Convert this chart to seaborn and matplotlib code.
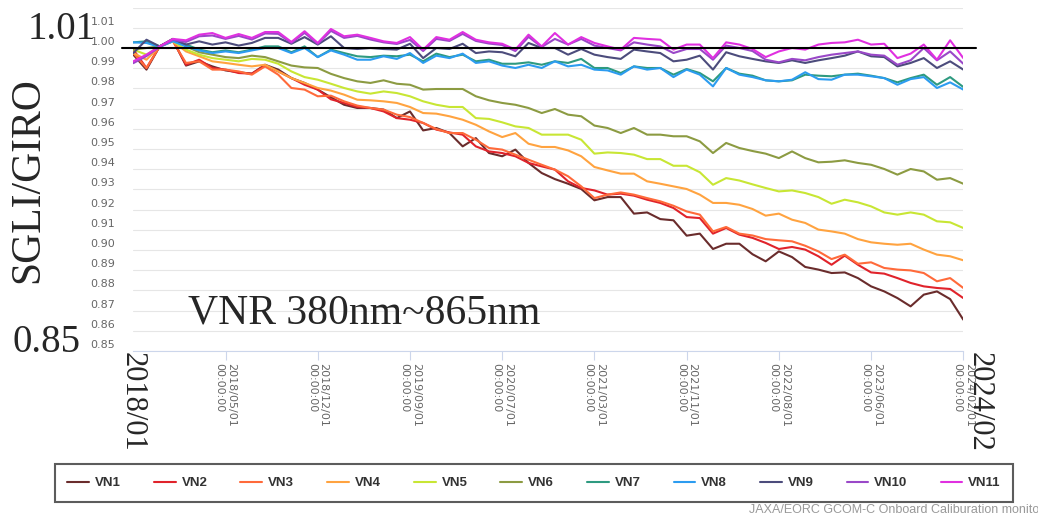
import numpy as np
import pandas as pd
import matplotlib
matplotlib.use("Agg")
import matplotlib.pyplot as plt
import seaborn as sns
from matplotlib.transforms import ScaledTranslation

# ---------------- data ----------------
bands = ["VN1", "VN2", "VN3", "VN4", "VN5", "VN6", "VN7", "VN8", "VN9", "VN10", "VN11"]
band_colors = ["#6a2c2c", "#e0232b", "#ff6a3a", "#ffa340", "#c8e634", "#8c9b42",
               "#2e9a80", "#2c9cf0", "#4c4c7c", "#9a48c8", "#e030e0"]
tick_dates = ["2018/05/01", "2018/12/01", "2019/09/01", "2020/07/01", "2021/03/01",
              "2021/11/01", "2022/08/01", "2023/06/01", "2024/02/01"]
y_ticks = [0.85, 0.86, 0.87, 0.88, 0.89, 0.90, 0.91, 0.92, 0.93, 0.94, 0.95,
           0.96, 0.97, 0.98, 0.99, 1.00, 1.01, 1.02]

VN1 = [0.9967, 0.9893, 1.0008, 1.0041, 0.9913, 0.9934, 0.9909, 0.9889, 0.9880, 0.9873, 0.9917, 0.9893, 0.9851, 0.9827, 0.9794, 0.9756,
       0.9719, 0.9703, 0.9703, 0.9695, 0.9653, 0.9686, 0.9592, 0.9604, 0.9579, 0.9513, 0.9554, 0.9480, 0.9464, 0.9497, 0.9431,
       0.9381, 0.9351, 0.9328, 0.9302, 0.9246, 0.9262, 0.9262, 0.9180, 0.9186, 0.9153, 0.9147, 0.9071, 0.9081, 0.9005, 0.9031, 0.9031, 0.8979,
       0.8944, 0.8993, 0.8965, 0.8916, 0.8903, 0.8886, 0.8889, 0.8861, 0.8820, 0.8795, 0.8762, 0.8721, 0.8779, 0.8795, 0.8757, 0.8655]
VN2 = [0.9992, 0.9901, 1.0008, 1.0038, 0.9917, 0.9942, 0.9901, 0.9893, 0.9876, 0.9873, 0.9913, 0.9884, 0.9851, 0.9818, 0.9794, 0.9746,
       0.9728, 0.9708, 0.9703, 0.9686, 0.9653, 0.9645, 0.9629, 0.9596, 0.9582, 0.9571, 0.9513, 0.9488, 0.9480, 0.9464, 0.9431,
       0.9414, 0.9398, 0.9340, 0.9307, 0.9295, 0.9274, 0.9279, 0.9269, 0.9249, 0.9233, 0.9208, 0.9163, 0.9158, 0.9081, 0.9109, 0.9076, 0.9060,
       0.9035, 0.9005, 0.9015, 0.9002, 0.8969, 0.8927, 0.8972, 0.8927, 0.8889, 0.8883, 0.8861, 0.8837, 0.8820, 0.8812, 0.8807, 0.8762]
VN3 = [0.9975, 0.9901, 1.0008, 1.0033, 0.9926, 0.9934, 0.9893, 0.9893, 0.9884, 0.9868, 0.9909, 0.9868, 0.9802, 0.9794, 0.9761, 0.9764,
       0.9736, 0.9715, 0.9703, 0.9695, 0.9670, 0.9658, 0.9629, 0.9599, 0.9579, 0.9579, 0.9546, 0.9505, 0.9497, 0.9472, 0.9447,
       0.9422, 0.9398, 0.9365, 0.9315, 0.9257, 0.9274, 0.9285, 0.9274, 0.9257, 0.9241, 0.9219, 0.9191, 0.9175, 0.9092, 0.9114, 0.9081, 0.9072,
       0.9054, 0.9048, 0.9043, 0.9021, 0.8993, 0.8955, 0.8977, 0.8932, 0.8939, 0.8911, 0.8903, 0.8899, 0.8886, 0.8845, 0.8861, 0.8812]
VN4 = [0.9975, 0.9942, 1.0008, 1.0033, 0.9983, 0.9959, 0.9934, 0.9926, 0.9917, 0.9909, 0.9917, 0.9884, 0.9851, 0.9827, 0.9802, 0.9789,
       0.9769, 0.9744, 0.9741, 0.9736, 0.9728, 0.9708, 0.9678, 0.9675, 0.9662, 0.9645, 0.9620, 0.9587, 0.9559, 0.9579, 0.9526,
       0.9510, 0.9510, 0.9493, 0.9464, 0.9411, 0.9394, 0.9378, 0.9378, 0.9340, 0.9328, 0.9315, 0.9302, 0.9274, 0.9233, 0.9233, 0.9224, 0.9203,
       0.9170, 0.9180, 0.9150, 0.9134, 0.9101, 0.9092, 0.9081, 0.9054, 0.9038, 0.9031, 0.9026, 0.9031, 0.9002, 0.8977, 0.8969, 0.8949]
VN5 = [0.9992, 0.9967, 1.0008, 1.0033, 0.9992, 0.9967, 0.9950, 0.9942, 0.9934, 0.9946, 0.9942, 0.9922, 0.9884, 0.9856, 0.9843, 0.9823,
       0.9802, 0.9785, 0.9774, 0.9785, 0.9777, 0.9761, 0.9736, 0.9719, 0.9708, 0.9708, 0.9653, 0.9649, 0.9632, 0.9612, 0.9604,
       0.9571, 0.9571, 0.9571, 0.9546, 0.9477, 0.9483, 0.9480, 0.9472, 0.9450, 0.9450, 0.9417, 0.9417, 0.9385, 0.9323, 0.9356, 0.9344, 0.9325,
       0.9307, 0.9290, 0.9295, 0.9282, 0.9262, 0.9229, 0.9249, 0.9236, 0.9216, 0.9186, 0.9175, 0.9186, 0.9175, 0.9142, 0.9137, 0.9109]
VN6 = [0.9992, 1.0000, 1.0008, 1.0045, 1.0008, 0.9979, 0.9967, 0.9955, 0.9950, 0.9962, 0.9955, 0.9934, 0.9913, 0.9904, 0.9901, 0.9872,
       0.9851, 0.9835, 0.9827, 0.9840, 0.9823, 0.9818, 0.9794, 0.9797, 0.9797, 0.9797, 0.9761, 0.9741, 0.9728, 0.9719, 0.9703,
       0.9678, 0.9698, 0.9670, 0.9662, 0.9616, 0.9604, 0.9579, 0.9604, 0.9571, 0.9571, 0.9563, 0.9563, 0.9538, 0.9480, 0.9530, 0.9505, 0.9490,
       0.9477, 0.9455, 0.9488, 0.9455, 0.9434, 0.9437, 0.9444, 0.9431, 0.9422, 0.9401, 0.9373, 0.9401, 0.9389, 0.9348, 0.9356, 0.9328]
VN7 = [1.0028, 1.0033, 1.0008, 1.0041, 1.0017, 0.9992, 0.9979, 0.9988, 0.9979, 0.9992, 1.0008, 1.0008, 0.9979, 1.0008, 0.9955, 0.9992,
       0.9975, 0.9959, 0.9955, 0.9962, 0.9959, 0.9967, 0.9934, 0.9972, 0.9955, 0.9967, 0.9934, 0.9942, 0.9922, 0.9922, 0.9929,
       0.9917, 0.9934, 0.9926, 0.9946, 0.9901, 0.9901, 0.9876, 0.9909, 0.9901, 0.9901, 0.9868, 0.9896, 0.9876, 0.9835, 0.9901, 0.9873, 0.9863,
       0.9840, 0.9835, 0.9840, 0.9868, 0.9863, 0.9860, 0.9868, 0.9873, 0.9863, 0.9851, 0.9830, 0.9851, 0.9868, 0.9818, 0.9856, 0.9807]
VN8 = [1.0028, 1.0025, 1.0005, 1.0033, 1.0008, 0.9988, 0.9975, 0.9983, 0.9975, 0.9988, 1.0000, 1.0000, 0.9975, 1.0000, 0.9955, 0.9988,
       0.9967, 0.9942, 0.9942, 0.9959, 0.9946, 0.9975, 0.9926, 0.9962, 0.9950, 0.9972, 0.9926, 0.9934, 0.9913, 0.9901, 0.9917,
       0.9901, 0.9934, 0.9909, 0.9917, 0.9893, 0.9889, 0.9868, 0.9909, 0.9893, 0.9901, 0.9856, 0.9893, 0.9868, 0.9810, 0.9901, 0.9868, 0.9856,
       0.9840, 0.9835, 0.9843, 0.9880, 0.9846, 0.9843, 0.9868, 0.9868, 0.9860, 0.9851, 0.9818, 0.9846, 0.9856, 0.9802, 0.9830, 0.9794]
VN9 = [0.9975, 1.0041, 1.0008, 1.0045, 1.0017, 1.0033, 1.0017, 1.0028, 1.0012, 1.0025, 1.0050, 1.0050, 1.0021, 1.0054, 1.0017, 1.0058,
       1.0000, 0.9995, 1.0000, 0.9995, 0.9992, 1.0021, 0.9950, 1.0000, 0.9995, 1.0021, 0.9975, 0.9983, 0.9979, 0.9959, 1.0025,
       1.0000, 1.0000, 0.9967, 0.9995, 0.9967, 0.9955, 0.9946, 0.9992, 0.9983, 0.9975, 0.9934, 0.9942, 0.9962, 0.9893, 0.9979, 0.9959, 0.9946,
       0.9934, 0.9926, 0.9939, 0.9926, 0.9939, 0.9950, 0.9962, 0.9983, 0.9959, 0.9955, 0.9909, 0.9926, 0.9950, 0.9901, 0.9934, 0.9893]
VN10 = [0.9925, 0.9960, 1.0005, 1.0040, 1.0030, 1.0058, 1.0062, 1.0045, 1.0060, 1.0042, 1.0072, 1.0070, 1.0025, 1.0075, 1.0020, 1.0085,
        1.0050, 1.0060, 1.0042, 1.0028, 1.0020, 1.0040, 0.9985, 1.0045, 1.0035, 1.0070, 1.0035, 1.0022, 1.0015, 0.9985, 1.0055,
        1.0005, 1.0045, 1.0017, 1.0045, 1.0012, 1.0000, 0.9988, 1.0028, 1.0017, 1.0008, 0.9975, 0.9995, 0.9995, 0.9942, 1.0012, 1.0000, 0.9985,
        0.9942, 0.9929, 0.9946, 0.9939, 0.9955, 0.9967, 0.9975, 0.9983, 0.9967, 0.9962, 0.9917, 0.9939, 1.0000, 0.9939, 0.9983, 0.9922]
VN11 = [0.9934, 0.9967, 1.0008, 1.0045, 1.0038, 1.0066, 1.0074, 1.0050, 1.0069, 1.0050, 1.0079, 1.0079, 1.0030, 1.0083, 1.0025, 1.0094,
        1.0058, 1.0066, 1.0050, 1.0033, 1.0025, 1.0054, 0.9992, 1.0054, 1.0041, 1.0079, 1.0041, 1.0028, 1.0021, 0.9992, 1.0066,
        1.0008, 1.0074, 1.0017, 1.0054, 1.0025, 1.0008, 0.9992, 1.0050, 1.0045, 1.0041, 0.9992, 1.0017, 1.0017, 0.9950, 1.0028, 1.0017, 0.9995,
        0.9955, 0.9983, 1.0000, 0.9992, 1.0017, 1.0025, 1.0028, 1.0041, 1.0017, 1.0021, 0.9950, 0.9972, 1.0017, 0.9942, 1.0038, 0.9950]

series = {"VN1": VN1, "VN2": VN2, "VN3": VN3, "VN4": VN4, "VN5": VN5, "VN6": VN6,
          "VN7": VN7, "VN8": VN8, "VN9": VN9, "VN10": VN10, "VN11": VN11}
n_pts = len(VN1)
df = pd.DataFrame({
    "idx": np.tile(np.arange(n_pts), len(bands)),
    "band": np.repeat(bands, n_pts),
    "ratio": np.concatenate([series[b] for b in bands]),
})

# ---------------- figure ----------------
sns.set_theme(style="white")
plt.rcParams["font.family"] = ["DejaVu Sans"]
W, H = 1038, 518
fig = plt.figure(figsize=(W / 100, H / 100), dpi=100)
ax = fig.add_axes([133.3 / W, 1 - 351 / H, 830 / W, (351 - 7.6) / H])

sns.lineplot(data=df, x="idx", y="ratio", hue="band", hue_order=bands,
             palette=dict(zip(bands, band_colors)), linewidth=1.5,
             estimator=None, ax=ax, legend=True, zorder=3)
handles, labels = ax.get_legend_handles_labels()
ax.get_legend().remove()

ax.set_xlim(0, n_pts - 1)
ax.set_ylim(0.85, 1.02)
ax.set_xlabel("")
ax.set_ylabel("")

# y axis
ax.set_yticks(y_ticks)
ax.set_yticklabels([f"{v:.2f}" if v < 1.015 else "" for v in y_ticks])
ax.tick_params(axis="y", length=0, pad=13, labelsize=8, labelcolor="#666666")
for tk in ax.yaxis.get_major_ticks():
    tk.label1.set_transform(tk.label1.get_transform() +
                            ScaledTranslation(0, 7 / 100, fig.dpi_scale_trans))
ax.yaxis.grid(True, color="#e6e6e6", linewidth=0.8)
ax.xaxis.grid(False)
ax.set_axisbelow(True)

# x axis
ax.set_xticks(list(range(7, n_pts, 7)))
ax.set_xticklabels([d + "\n00:00:00" for d in tick_dates])
ax.tick_params(axis="x", length=6.5, width=0.8, color="#ccd6eb", pad=2,
               labelsize=8, labelcolor="#666666", direction="out", bottom=True)
for lab in ax.get_xticklabels():
    lab.set_rotation(-90)
    lab.set_ha("center")
    lab.set_va("top")
    lab.set_multialignment("left")

for s in ["top", "right", "left"]:
    ax.spines[s].set_visible(False)
ax.spines["bottom"].set_color("#ccd6eb")
ax.spines["bottom"].set_linewidth(0.8)

# reference line at 1.00
ax.axhline(1.0, xmin=(122 - 133.3) / 830, xmax=(976 - 133.3) / 830,
           color="black", linewidth=1.5, clip_on=False, zorder=6)

# legend
leg = fig.legend(handles, labels, loc="center", bbox_to_anchor=(534 / W, 1 - 483 / H),
                 ncol=11, frameon=True, fancybox=False, edgecolor="#333333",
                 prop={"family": "Liberation Sans", "weight": "bold", "size": 9.5},
                 handlelength=1.65, handletextpad=0.45, columnspacing=2.5,
                 borderpad=0.95, labelcolor="#333333")
leg.get_frame().set_linewidth(1.5)
for h in leg.get_lines():
    h.set_linewidth(1.5)

# overlay annotations
serif = "Liberation Serif"
fig.text(28 / W, 1 - 39 / H, "1.01", fontsize=28, family=serif, ha="left", va="baseline")
fig.text(13 / W, 1 - 352 / H, "0.85", fontsize=28, family=serif, ha="left", va="baseline")
fig.text(28 / W, 1 - 180 / H, "SGLI/GIRO", fontsize=30, family=serif, rotation=90,
         ha="center", va="center")
fig.text(188 / W, 1 - 323 / H, "VNR 380nm~865nm", fontsize=30, family=serif,
         ha="left", va="baseline")
fig.text(132 / W, 1 - 352 / H, "2018/01", fontsize=22, family=serif, rotation=-90,
         ha="center", va="top")
fig.text(979 / W, 1 - 352 / H, "2024/02", fontsize=22, family=serif, rotation=-90,
         ha="center", va="top")

fig.text(749 / W, 1 - 513 / H, "JAXA/EORC GCOM-C Onboard Caliburation monito",
         fontsize=9, color="#999999", family="Liberation Sans", ha="left", va="baseline")

fig.savefig("out.png", dpi=100, facecolor="white")
